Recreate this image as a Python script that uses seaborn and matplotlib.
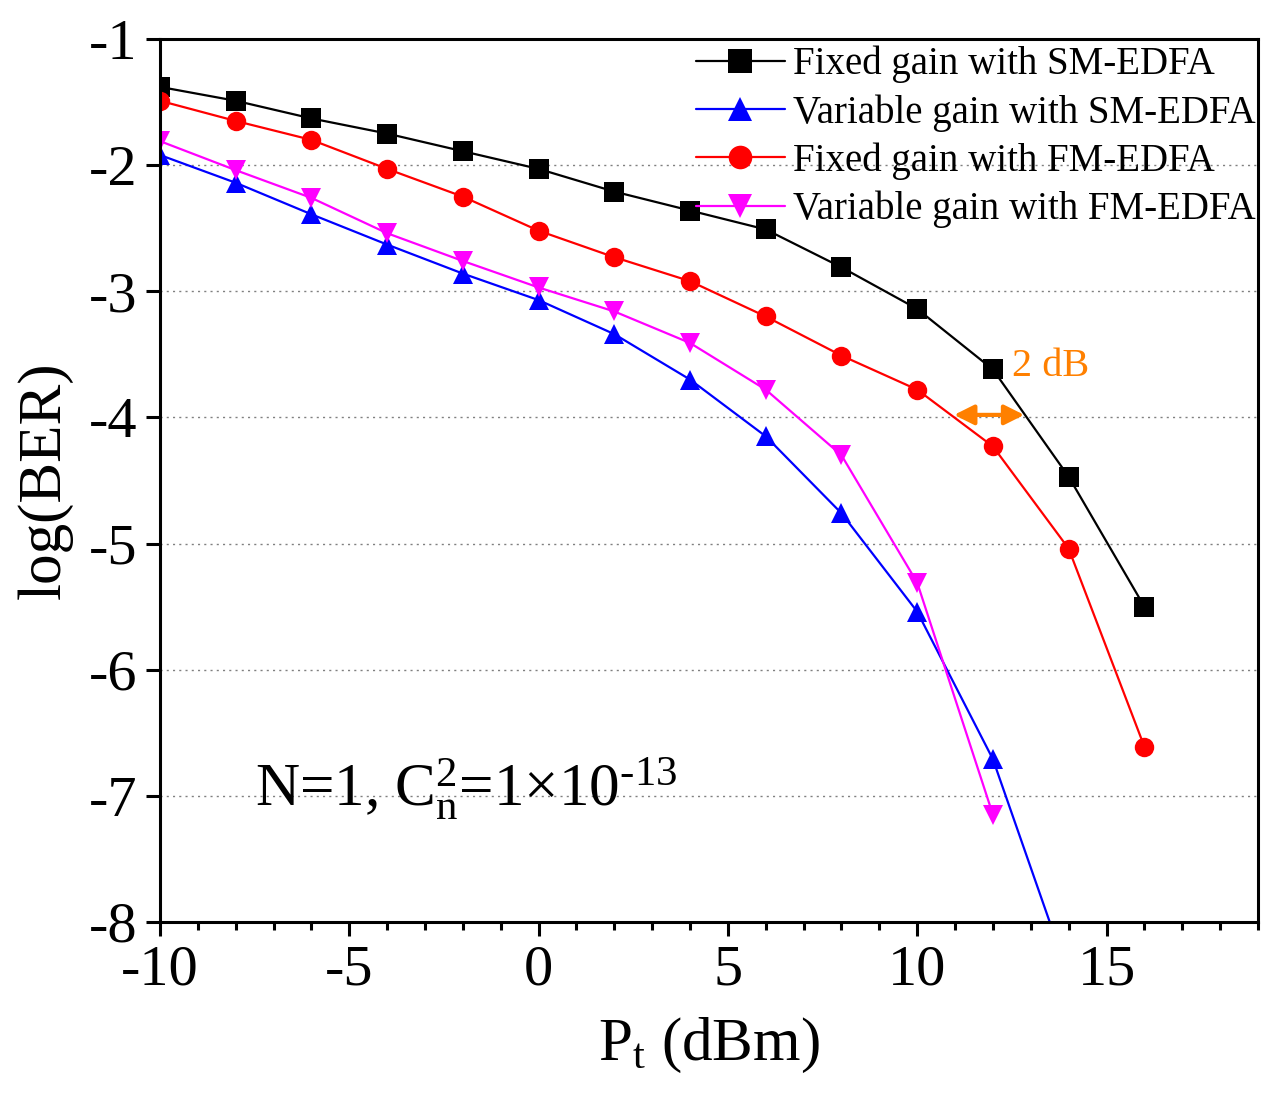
import numpy as np
import pandas as pd
import matplotlib
matplotlib.use("Agg")
import matplotlib.pyplot as plt
import seaborn as sns
from matplotlib.ticker import MultipleLocator

# transmit power (dBm)
pt_fixed = [-10, -8, -6, -4, -2, 0, 2, 4, 6, 8, 10, 12, 14, 16]
pt_var_sm = [-10, -8, -6, -4, -2, 0, 2, 4, 6, 8, 10, 12, 14]
pt_var_fm = [-10, -8, -6, -4, -2, 0, 2, 4, 6, 8, 10, 12]

# log(BER)
fixed_sm = [-1.38, -1.49, -1.63, -1.75, -1.89, -2.03, -2.21, -2.36, -2.51, -2.81, -3.14, -3.62, -4.47, -5.50]
var_sm = [-1.92, -2.14, -2.39, -2.63, -2.86, -3.07, -3.34, -3.70, -4.15, -4.76, -5.54, -6.71, -8.43]
fixed_fm = [-1.49, -1.65, -1.80, -2.03, -2.25, -2.52, -2.73, -2.92, -3.20, -3.51, -3.78, -4.23, -5.04, -6.61]
var_fm = [-1.81, -2.04, -2.26, -2.54, -2.76, -2.97, -3.16, -3.41, -3.78, -4.30, -5.31, -7.15]

labels = ["Fixed gain with SM-EDFA", "Variable gain with SM-EDFA",
          "Fixed gain with FM-EDFA", "Variable gain with FM-EDFA"]
colors = ["black", "blue", "red", "magenta"]
markers = ["s", "^", "o", "v"]

df = pd.concat([
    pd.DataFrame({"Pt": pt_fixed, "ber": fixed_sm, "case": labels[0]}),
    pd.DataFrame({"Pt": pt_var_sm, "ber": var_sm, "case": labels[1]}),
    pd.DataFrame({"Pt": pt_fixed, "ber": fixed_fm, "case": labels[2]}),
    pd.DataFrame({"Pt": pt_var_fm, "ber": var_fm, "case": labels[3]}),
])

sns.set_style("ticks")
plt.rcParams['font.family'] = ['Liberation Serif', 'DejaVu Serif']
plt.rcParams['mathtext.fontset'] = 'custom'
plt.rcParams['mathtext.rm'] = 'Liberation Serif'
plt.rcParams['mathtext.it'] = 'Liberation Serif'
plt.rcParams['axes.unicode_minus'] = False
for k in ['text.color', 'axes.labelcolor', 'xtick.color', 'ytick.color', 'axes.edgecolor']:
    plt.rcParams[k] = 'black'

fig = plt.figure(figsize=(12.63, 10.98), dpi=100)
ax = fig.add_axes([0.1267, 0.1603, 0.8693, 0.8042])

sns.lineplot(data=df, x="Pt", y="ber", hue="case", style="case",
             hue_order=labels, style_order=labels,
             palette=dict(zip(labels, colors)), markers=dict(zip(labels, markers)),
             dashes=False, markersize=14, markeredgewidth=0, linewidth=1.6,
             sort=False, ax=ax)

ax.set_xlim(-10, 19)
ax.set_ylim(-8, -1)
ax.xaxis.set_major_locator(MultipleLocator(5))
ax.xaxis.set_minor_locator(MultipleLocator(1))
ax.yaxis.set_major_locator(MultipleLocator(1))
ax.yaxis.grid(True, linestyle=(0, (1.5, 3)), color="gray", linewidth=1.0)
ax.set_axisbelow(True)

for s in ax.spines.values():
    s.set_linewidth(2.2)
    s.set_color("black")
ax.tick_params(which="major", direction="out", length=10, width=2.2, labelsize=42, pad=6)
ax.tick_params(which="minor", direction="out", length=6, width=2.2)
ax.tick_params(axis="y", which="minor", length=0)

ax.set_xlabel(r"P$_\mathrm{t}$ (dBm)", fontsize=44, labelpad=14)
ax.set_ylabel("log(BER)", fontsize=44, labelpad=12)

leg = ax.legend(loc="upper right", frameon=False, fontsize=28, handlelength=2.3,
                handletextpad=0.2, labelspacing=0.28, borderaxespad=0.0,
                bbox_to_anchor=(1.012, 1.01))
for h in leg.legend_handles:
    h.set_markersize(17)

ax.text(-7.5, -6.95, r"N=1, C$_\mathrm{n}^\mathrm{2}$=1$\times$10$^\text{-13}$",
        fontsize=44, va="center", ha="left")

orange = "#FF8000"
ax.annotate("", xy=(10.9, -3.98), xytext=(12.9, -3.98),
            arrowprops=dict(arrowstyle="<|-|>", color=orange, lw=3, mutation_scale=30))
ax.text(12.5, -3.6, "2 dB", color=orange, fontsize=29, va="center", ha="left")

fig.savefig("out.png", dpi=100)
